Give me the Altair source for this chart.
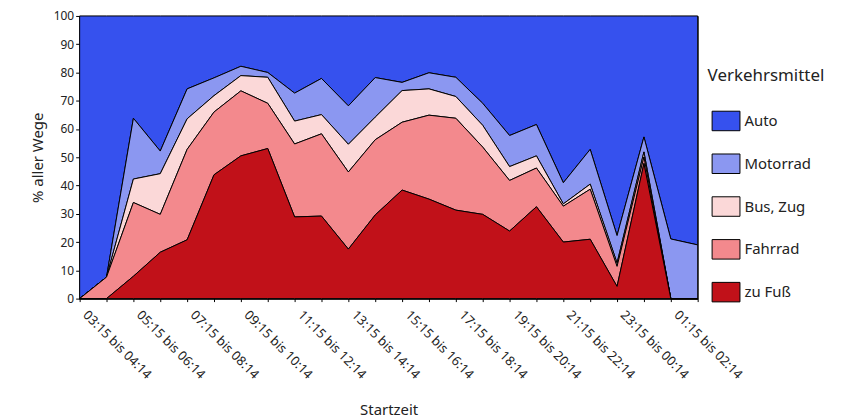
import altair as alt
import pandas as pd

zeit = ["03:15 bis 04:14", "04:15 bis 05:14", "05:15 bis 06:14", "06:15 bis 07:14",
        "07:15 bis 08:14", "08:15 bis 09:14", "09:15 bis 10:14", "10:15 bis 11:14",
        "11:15 bis 12:14", "12:15 bis 13:14", "13:15 bis 14:14", "14:15 bis 15:14",
        "15:15 bis 16:14", "16:15 bis 17:14", "17:15 bis 18:14", "18:15 bis 19:14",
        "19:15 bis 20:14", "20:15 bis 21:14", "21:15 bis 22:14", "22:15 bis 23:14",
        "23:15 bis 00:14", "00:15 bis 01:14", "01:15 bis 02:14", "02:15 bis 03:14"]

zu_fuss = [0, 0, 7.9, 16.4, 20.8, 43.8, 50.5, 53.1, 28.9, 29.2, 17.5, 29.6,
           38.4, 35.2, 31.3, 29.8, 23.9, 32.5, 20.0, 21.0, 4.3, 47.8, 0, 0]
fahrrad = [0, 7.6, 26.1, 13.4, 32.0, 22.2, 23.0, 16.0, 25.8, 29.1, 27.3, 26.6,
           24.0, 29.7, 32.5, 23.8, 17.9, 13.7, 12.7, 17.7, 7.1, 2.3, 0, 0]
bus_zug = [0, 0, 8.3, 14.4, 10.8, 5.8, 5.4, 9.2, 8.1, 6.8, 9.8, 8.0,
           11.2, 9.3, 7.7, 7.7, 4.9, 4.3, 0.8, 1.8, 1.2, 1.8, 0, 0]
motorrad = [0, 0, 21.5, 8.0, 10.6, 6.3, 3.3, 1.7, 9.9, 12.8, 13.6, 14.0,
            2.9, 5.7, 6.8, 7.8, 11.0, 11.1, 7.5, 12.3, 9.7, 5.3, 21.1, 19.0]
auto = [100, 92.4, 36.2, 47.8, 25.8, 21.9, 17.8, 20.0, 27.3, 22.1, 31.8, 21.8,
        23.5, 20.1, 21.7, 30.9, 42.3, 38.4, 59.0, 47.2, 77.7, 42.8, 78.9, 81.0]

kategorien = ["Auto", "Motorrad", "Bus, Zug", "Fahrrad", "zu Fuß"]
farben = ["#3651ee", "#8b97f1", "#fbd8d8", "#f3898d", "#c11119"]
serien = [auto, motorrad, bus_zug, fahrrad, zu_fuss]
stapel = [4, 3, 2, 1, 0]

rows = []
for kat, werte, rang in zip(kategorien, serien, stapel):
    for i, v in enumerate(werte):
        rows.append({"idx": i, "Zeit": zeit[i], "Verkehrsmittel": kat,
                     "Anteil": v, "rang": rang})
df = pd.DataFrame(rows)

arr = "[" + ",".join("'" + s + "'" for s in zeit) + "]"
label_expr = "datum.value % 2 == 0 ? " + arr + "[datum.value] : ''"

FONT = "Noto Sans"

chart = alt.Chart(df).mark_area(
    stroke="black", strokeWidth=1, interpolate="linear", opacity=1
).encode(
    x=alt.X("idx:Q",
            scale=alt.Scale(domain=[0, 23], nice=False, zero=False),
            axis=alt.Axis(title="Startzeit", values=list(range(24)),
                          labelExpr=label_expr, labelAngle=45,
                          labelAlign="left", labelBaseline="middle",
                          labelFontSize=13, labelPadding=11, labelOffset=5,
                          tickSize=3,
                          titleFontSize=15, titleFontWeight="normal",
                          titleY=111, titleBaseline="middle",
                          labelOverlap=False, grid=False)),
    y=alt.Y("Anteil:Q", stack="zero",
            scale=alt.Scale(domain=[0, 100], nice=False),
            axis=alt.Axis(title="% aller Wege", values=list(range(0, 101, 10)),
                          labelFontSize=12, tickSize=4, titleFontSize=15,
                          titleFontWeight="normal", titlePadding=8, grid=False)),
    color=alt.Color("Verkehrsmittel:N",
                    scale=alt.Scale(domain=kategorien, range=farben),
                    legend=alt.Legend(
                        title="Verkehrsmittel", orient="none",
                        legendX=631, legendY=52, padding=0,
                        titleFontSize=17, titleFontWeight="normal",
                        titlePadding=22, labelFontSize=15,
                        symbolType="M-1,-0.7H1V0.7H-1Z", symbolSize=784,
                        symbolStrokeColor="black", symbolStrokeWidth=1,
                        symbolOpacity=1, symbolOffset=4, labelOffset=4,
                        rowPadding=16)),
    order=alt.Order("rang:Q", sort="ascending"),
).properties(
    width=621, height=284,
    autosize=alt.AutoSizeParams(type="none"),
    padding={"left": 72, "top": 7, "right": 140, "bottom": 124},
).configure_view(
    stroke="black", strokeWidth=1
).configure_axis(
    domainColor="black", tickColor="black", labelColor="#222",
    titleColor="#222", labelFont=FONT, titleFont=FONT
).configure_legend(
    labelFont=FONT, titleFont=FONT, labelColor="#222", titleColor="#222"
)

chart.save("out.html", embed_options={"renderer": "svg", "actions": False})
